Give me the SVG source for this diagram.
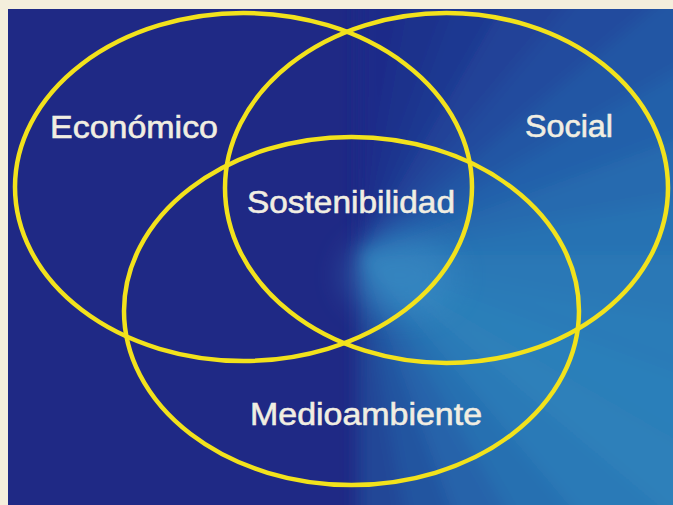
<svg xmlns="http://www.w3.org/2000/svg" width="673" height="505" viewBox="0 0 673 505">
  <defs>
    <style>
      .ring { fill: none; stroke: #f2e21c; stroke-width: 4.5; }
      .lbl { font-family: "Liberation Sans", Arial, sans-serif; font-size: 32px; fill: #f1eee2; stroke: #f1eee2; stroke-width: 0.6; }
    </style>
    <clipPath id="panel">
      <rect x="8" y="9" width="665" height="496"/>
    </clipPath>
    <filter id="soft" filterUnits="userSpaceOnUse" x="0" y="0" width="673" height="505">
      <feGaussianBlur stdDeviation="8"/>
    </filter>
    <filter id="glowBlur" filterUnits="userSpaceOnUse" x="0" y="0" width="673" height="505">
      <feGaussianBlur stdDeviation="16"/>
    </filter>
  </defs>

  <!-- cream frame -->
  <rect x="0" y="0" width="673" height="505" fill="#f4eedc"/>

  <!-- blue panel with angular gradient -->
  <g clip-path="url(#panel)">
    <rect x="8" y="9" width="665" height="496" fill="#1f2985"/>
    <g filter="url(#soft)">
      <polygon points="358,255 358,-545 496.9,-532.8" fill="#1f2c89"/>
      <polygon points="358,255 496.9,-532.8 631.6,-496.8" fill="#1f318c"/>
      <polygon points="358,255 631.6,-496.8 758,-437.8" fill="#1f3991"/>
      <polygon points="358,255 758,-437.8 872.2,-357.8" fill="#204298"/>
      <polygon points="358,255 872.2,-357.8 970.8,-259.2" fill="#214c9e"/>
      <polygon points="358,255 970.8,-259.2 1050.8,-145" fill="#2256a4"/>
      <polygon points="358,255 1050.8,-145 1109.8,-18.6" fill="#2461aa"/>
      <polygon points="358,255 1109.8,-18.6 1145.8,116.1" fill="#266aaf"/>
      <polygon points="358,255 1145.8,116.1 1158,255" fill="#2872b3"/>
      <polygon points="358,255 1158,255 1145.8,393.9" fill="#2a78b6"/>
      <polygon points="358,255 1145.8,393.9 1109.8,528.6" fill="#2b7cb8"/>
      <polygon points="358,255 1109.8,528.6 1050.8,655" fill="#2c7fba"/>
      <polygon points="358,255 1050.8,655 970.8,769.2" fill="#2d80ba"/>
      <polygon points="358,255 970.8,769.2 872.2,867.8" fill="#2b7ab7"/>
      <polygon points="358,255 872.2,867.8 758,947.8" fill="#2870b1"/>
      <polygon points="358,255 758,947.8 631.6,1006.8" fill="#2663aa"/>
      <polygon points="358,255 631.6,1006.8 496.9,1042.8" fill="#2454a0"/>
      <polygon points="358,255 496.9,1042.8 358,1055" fill="#224697"/>
    </g>
    <ellipse cx="400" cy="275" rx="55" ry="40" fill="#3f8ec8" opacity="0.45" filter="url(#glowBlur)"/>
  </g>

  <!-- nodes -->
  <g id="economico">
    <ellipse class="ring" cx="243.5" cy="187" rx="228.5" ry="174"/>
    <text class="lbl" x="50" y="138" textLength="168" lengthAdjust="spacingAndGlyphs">Económico</text>
  </g>
  <g id="social">
    <ellipse class="ring" cx="446.5" cy="188" rx="221.5" ry="175"/>
    <text class="lbl" x="525" y="137" textLength="88" lengthAdjust="spacingAndGlyphs">Social</text>
  </g>
  <g id="medioambiente">
    <ellipse class="ring" cx="351.5" cy="311" rx="227.5" ry="174"/>
    <text class="lbl" x="250" y="425" textLength="232" lengthAdjust="spacingAndGlyphs">Medioambiente</text>
  </g>
  <g id="sostenibilidad">
    <text class="lbl" x="247" y="213" textLength="208" lengthAdjust="spacingAndGlyphs">Sostenibilidad</text>
  </g>
  <g id="connectors"></g>
</svg>
